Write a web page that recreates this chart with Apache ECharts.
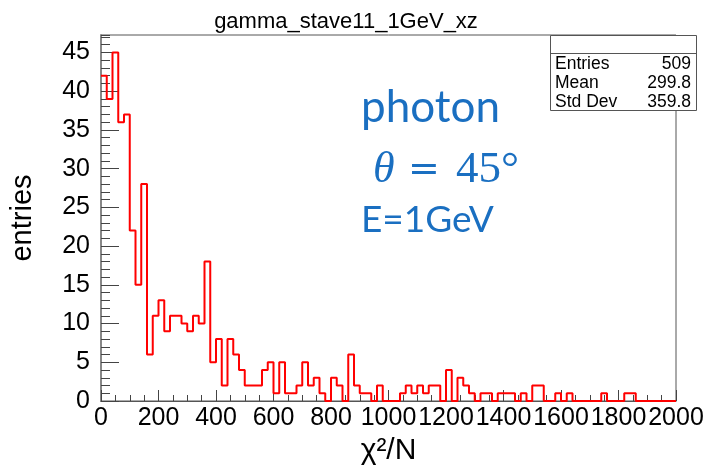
<!DOCTYPE html>
<html>
<head>
<meta charset="utf-8">
<script src="https://cdn.jsdelivr.net/npm/echarts@6/dist/echarts.min.js"></script>
<style>
html,body{margin:0;padding:0;background:#fff;}
#c{width:710px;height:471px;}
</style>
</head>
<body>
<div id="c"></div>
<script>
// ---- data ----
const chartTitle = 'gamma_stave11_1GeV_xz';
const xName = 'χ²/N';
const yName = 'entries';
const binWidth = 20;
const xMin = 0, xMax = 2000, xStep = 200;
const yMin = 0, yMax = 47.25, yStep = 5;
const counts = [
  42, 39, 45, 36, 37, 22, 15, 28, 6, 11,
  13, 9, 11, 11, 10, 9, 11, 10, 18, 5,
  8, 2, 8, 6, 4, 2, 2, 2, 4, 5,
  1, 5, 1, 1, 2, 5, 2, 3, 1, 0,
  3, 2, 0, 6, 2, 1, 1, 0, 2, 0,
  0, 0, 1, 2, 1, 2, 1, 2, 2, 0,
  4, 0, 3, 2, 1, 0, 1, 1, 0, 1,
  1, 1, 0, 1, 0, 2, 2, 0, 0, 1,
  0, 1, 0, 0, 0, 0, 0, 1, 0, 0,
  0, 1, 1, 0, 0, 0, 0, 0, 0, 0
];
const statLabels = ['Entries', 'Mean', 'Std Dev'];
const statValues = ['509', '299.8', '359.8'];
const noteLines = ['photon', 'E=1GeV'];

// ---- build step data from bin edges ----
const stepData = counts.map((c, i) => [xMin + i * binWidth, c]);
stepData.push([xMin + counts.length * binWidth, counts[counts.length - 1]]);

const G = {left: 97, top: 35, right: 676, bottom: 403};
const blue = '#1a6fc1';
const rootFont = 'Liberation Sans, Arial, Helvetica, sans-serif';

const chart = echarts.init(document.getElementById('c'), null, {renderer: 'canvas'});

const statsGraphics = [];
statsGraphics.push({type: 'rect', z: 100, shape: {x: 550.5, y: 35.5, width: 146, height: 75}, style: {fill: '#fff', stroke: '#555', lineWidth: 1}});
statsGraphics.push({type: 'line', z: 101, shape: {x1: 550.5, y1: 53.5, x2: 696.5, y2: 53.5}, style: {stroke: '#555', lineWidth: 1}});
statLabels.forEach((lab, i) => {
  const y = 64.5 + i * 19;
  statsGraphics.push({type: 'text', z: 102, style: {x: 555, y: y, text: lab, font: '17.5px ' + rootFont, fill: '#000', textAlign: 'left', textVerticalAlign: 'middle'}});
  statsGraphics.push({type: 'text', z: 102, style: {x: 691, y: y, text: statValues[i], font: '17.5px ' + rootFont, fill: '#000', textAlign: 'right', textVerticalAlign: 'middle'}});
});

const noteGraphics = [
  {type: 'text', z: 50, style: {x: 361, y: 108, text: noteLines[0], font: '44px Lato, "Open Sans", sans-serif', fill: blue, textAlign: 'left', textVerticalAlign: 'middle'}},
  {type: 'text', z: 50, style: {x: 373, y: 170, text: 'θ', font: 'italic 44px "Liberation Serif", "DejaVu Serif", serif', fill: blue, textAlign: 'left', textVerticalAlign: 'middle'}},
  {type: 'text', z: 50, style: {x: 408, y: 171, text: '=', font: '38px "DejaVu Serif", "Liberation Serif", serif', fill: blue, textAlign: 'left', textVerticalAlign: 'middle'}},
  {type: 'text', z: 50, style: {x: 456, y: 170, text: '45°', font: '45px "Liberation Serif", "DejaVu Serif", serif', fill: blue, textAlign: 'left', textVerticalAlign: 'middle'}},
  {type: 'text', z: 50, style: {x: 361, y: 220, text: noteLines[1], font: '37px Lato, "Open Sans", sans-serif', fill: blue, textAlign: 'left', textVerticalAlign: 'middle'}}
];

chart.setOption({
  animation: false,
  backgroundColor: '#fff',
  title: {
    text: chartTitle,
    left: 341, top: 6, textAlign: 'center',
    textStyle: {fontFamily: rootFont, fontSize: 22, fontWeight: 'normal', color: '#000'}
  },
  grid: {left: G.left, top: G.top, width: G.right - G.left, height: G.bottom - G.top,
         show: true, borderColor: '#555', borderWidth: 1, backgroundColor: 'transparent'},
  xAxis: {
    type: 'value', min: xMin, max: xMax, interval: xStep,
    name: xName, nameLocation: 'middle', nameGap: 35,
    nameTextStyle: {fontFamily: rootFont, fontSize: 30, color: '#000'},
    axisLine: {show: true, lineStyle: {color: '#555', width: 1}},
    axisTick: {show: true, inside: true, length: 11, lineStyle: {color: '#444'}},
    minorTick: {show: true, splitNumber: 4, length: 6, lineStyle: {color: '#444'}},
    splitLine: {show: false},
    axisLabel: {fontFamily: rootFont, fontSize: 25, color: '#000', margin: 5,
                showMinLabel: true, showMaxLabel: true, formatter: v => String(v)}
  },
  yAxis: [{
    type: 'value', min: yMin, max: yMax, interval: yStep,
    name: yName, nameLocation: 'middle', nameGap: 64,
    nameTextStyle: {fontFamily: rootFont, fontSize: 29, color: '#000'},
    axisLine: {show: true, lineStyle: {color: '#888', width: 2}},
    axisTick: {show: true, inside: true, length: 18, lineStyle: {color: '#444'}},
    splitLine: {show: false},
    axisLabel: {fontFamily: rootFont, fontSize: 25, color: '#000', margin: 11, showMaxLabel: false,
                formatter: v => String(v)}
  }, {
    type: 'value', min: yMin, max: yMax, interval: 1, position: 'left',
    axisLine: {show: false},
    axisTick: {show: true, inside: true, length: 9, lineStyle: {color: '#444'}},
    splitLine: {show: false},
    axisLabel: {show: false}
  }],
  series: [{
    type: 'line', step: 'end', data: stepData, xAxisIndex: 0, yAxisIndex: 0,
    symbol: 'none', clip: true,
    lineStyle: {color: '#ff0000', width: 2}
  }],
  graphic: noteGraphics.concat(statsGraphics)
});
</script>
</body>
</html>
